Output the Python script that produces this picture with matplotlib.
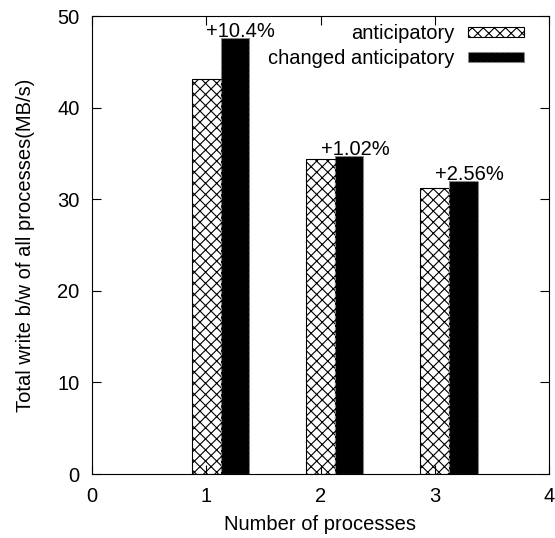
import matplotlib
matplotlib.use("Agg")
import matplotlib.pyplot as plt
import numpy as np

plt.rcParams['font.family'] = ['Liberation Sans', 'DejaVu Sans']
plt.rcParams['hatch.linewidth'] = 0.8
plt.rcParams['hatch.color'] = '#222222'

processes = [1, 2, 3]
anticipatory = [43.1, 34.35, 31.2]
changed_anticipatory = [47.6, 34.7, 32.0]
gain_labels = ['+10.4%', '+1.02%', '+2.56%']

FS = 14.5

fig = plt.figure(figsize=(5.55, 5.38), dpi=100)
ax = fig.add_axes([92/555, 1 - 474/538, 457/555, 458/538])

width = 0.25
x = np.array(processes, dtype=float)
ax.bar(x, anticipatory, width=width, color='white', edgecolor='black',
       hatch='xxx', linewidth=0.8, label='anticipatory')
ax.bar(x + width, changed_anticipatory, width=width, color='black',
       edgecolor='#888888', linestyle=(0, (3, 2)), linewidth=0.8,
       label='changed anticipatory')

for xi, v, txt in zip(x, changed_anticipatory, gain_labels):
    ax.text(xi, v + 0.15, txt, ha='left', va='baseline', fontsize=FS)

ax.set_xlim(0, 4)
ax.set_ylim(0, 50)
ax.set_xticks([0, 1, 2, 3, 4])
ax.set_yticks([0, 10, 20, 30, 40, 50])
ax.tick_params(direction='in', top=True, right=True, labelsize=FS, length=6.5,
               width=0.8)
ax.tick_params(axis='x', pad=9)
ax.tick_params(axis='y', pad=9)
for s in ax.spines.values():
    s.set_linewidth(0.8)

ax.set_xlabel('Number of processes', fontsize=FS, labelpad=7)
ax.set_ylabel('Total write b/w of all processes(MB/s)', fontsize=FS,
              labelpad=16)

leg = ax.legend(loc='upper right', frameon=False, fontsize=FS,
                markerfirst=False, handlelength=2.8, handleheight=0.4,
                handletextpad=0.65, labelspacing=0.3, borderpad=0,
                borderaxespad=0, bbox_to_anchor=(0.946, 0.982))

fig.savefig('out.png', dpi=100)
